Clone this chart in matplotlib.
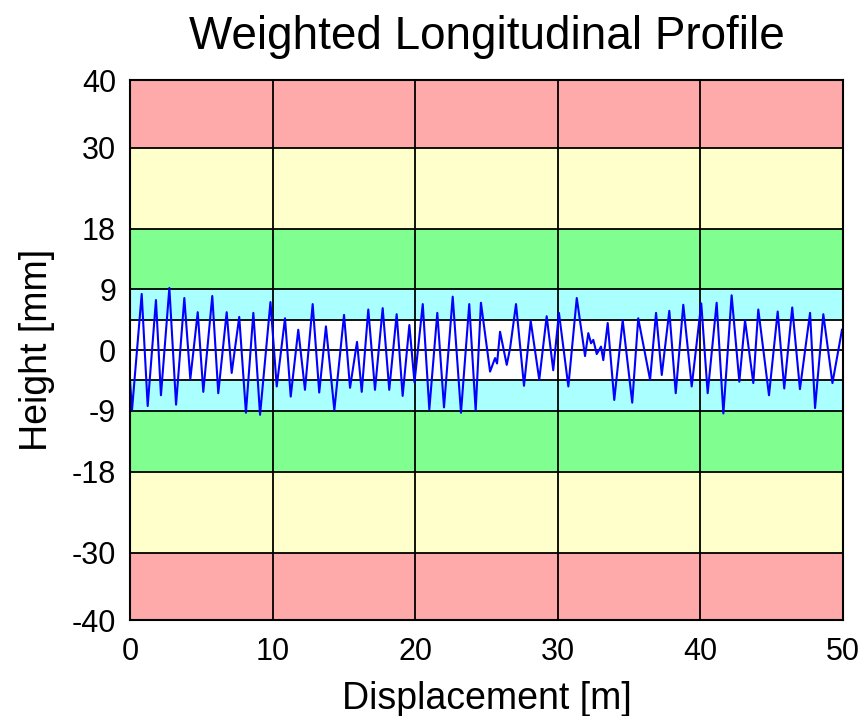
import matplotlib
matplotlib.use("Agg")
import matplotlib.pyplot as plt

plt.rcParams['font.family'] = ['Liberation Sans', 'DejaVu Sans']
plt.rcParams['axes.unicode_minus'] = False

title = "Weighted Longitudinal Profile"
xlabel = "Displacement [m]"
ylabel = "Height [mm]"

x_ticks = [0, 10, 20, 30, 40, 50]
y_ticks = [-40, -30, -18, -9, 0, 9, 18, 30, 40]
inner_lines = [-4.5, 4.5]

# bands: (low, high, color)
band_low = [30, 18, 9, 4.5, -4.5, -9, -18, -30, -40]
band_high = [40, 30, 18, 9, 4.5, -4.5, -9, -18, -30]
band_color = ['#FFAAAA', '#FFFFCC', '#80FF90', '#AAFFFF', '#FFFFFF',
              '#AAFFFF', '#80FF90', '#FFFFCC', '#FFAAAA']

# profile extrema
disp = [0.00, 0.14, 0.82, 1.24, 1.82, 2.17, 2.76, 3.23, 3.81, 4.23, 4.75, 5.14,
        5.77, 6.19, 6.78, 7.13, 7.66, 8.13, 8.65, 9.12, 9.85, 10.29, 10.87,
        11.27, 11.80, 12.27, 12.81, 13.27, 13.74, 14.33, 15.01, 15.43, 15.92,
        16.25, 16.71, 17.18, 17.72, 18.18, 18.70, 19.12, 19.59, 19.95, 20.53,
        20.99, 21.55, 22.02, 22.63, 23.21, 23.79, 24.24, 24.61, 25.25, 25.60,
        25.74, 25.95, 26.42, 26.65, 27.07, 27.63, 28.10, 28.70, 29.22, 29.68,
        30.08, 30.74, 31.33, 31.91, 32.14, 32.33, 32.49, 32.73, 33.03, 33.19,
        33.50, 33.96, 34.55, 35.22, 35.64, 36.47, 36.89, 37.29, 37.82, 38.27,
        38.80, 39.39, 40.06, 40.51, 41.14, 41.61, 42.19, 42.73, 43.13, 43.71,
        44.06, 44.81, 45.42, 45.88, 46.44, 46.98, 47.69, 48.04, 48.62, 49.26,
        49.93]
height = [-4.5, -8.9, 8.3, -8.3, 7.4, -6.7, 9.2, -8.1, 7.7, -4.3, 5.6, -6.2,
          8.0, -6.4, 5.6, -3.4, 4.9, -9.3, 5.5, -9.6, 7.1, -5.4, 4.7,
          -6.9, 3.0, -5.9, 6.8, -6.3, 3.5, -8.9, 5.2, -5.6, 1.2,
          -6.2, 6.0, -5.9, 6.2, -5.9, 5.3, -6.8, 3.7, -4.8, 6.8,
          -8.8, 5.5, -8.5, 7.9, -9.3, 6.8, -9.0, 7.0, -3.2, -1.2,
          -2.0, 2.7, -2.2, 0.2, 6.8, -5.3, 4.3, -4.4, 5.0, -3.0,
          5.5, -5.4, 7.7, -0.9, 2.5, 1.0, 1.5, -0.6, 0.5, -1.5,
          4.0, -7.4, 4.4, -7.8, 4.7, -4.4, 5.5, -3.7, 5.8, -6.4,
          6.7, -5.4, 6.9, -6.4, 7.0, -9.4, 8.1, -4.7, 4.4, -4.9,
          6.0, -6.7, 5.7, -5.7, 6.3, -5.8, 5.5, -8.6, 5.3, -4.9,
          3.0]

fig = plt.figure(figsize=(8.62, 7.16), dpi=100)
ax = fig.add_axes([130/862, 1-620/716, (843-130)/862, (620-80)/716])

for lo, hi, c in zip(band_low, band_high, band_color):
    ax.axhspan(lo, hi, color=c, zorder=0, lw=0)

for yv in y_ticks + inner_lines:
    ax.axhline(yv, color='black', lw=1.3, zorder=1)
for xv in x_ticks:
    ax.axvline(xv, color='black', lw=1.3, zorder=1)

ax.plot(disp, height, color='#0000FF', lw=1.5, zorder=2)

ax.set_xlim(0, 50)
ax.set_ylim(-40, 40)
ax.set_xticks(x_ticks)
ax.set_yticks(y_ticks)
ax.tick_params(length=0, labelsize=22, pad=10)
ax.tick_params(axis='x', pad=12)
for s in ax.spines.values():
    s.set_color('black')
    s.set_linewidth(1.5)

ax.set_title(title, fontsize=33, pad=22)
ax.set_xlabel(xlabel, fontsize=27, labelpad=10)
ax.set_ylabel(ylabel, fontsize=27, labelpad=12)

fig.savefig("out.png", dpi=100)
